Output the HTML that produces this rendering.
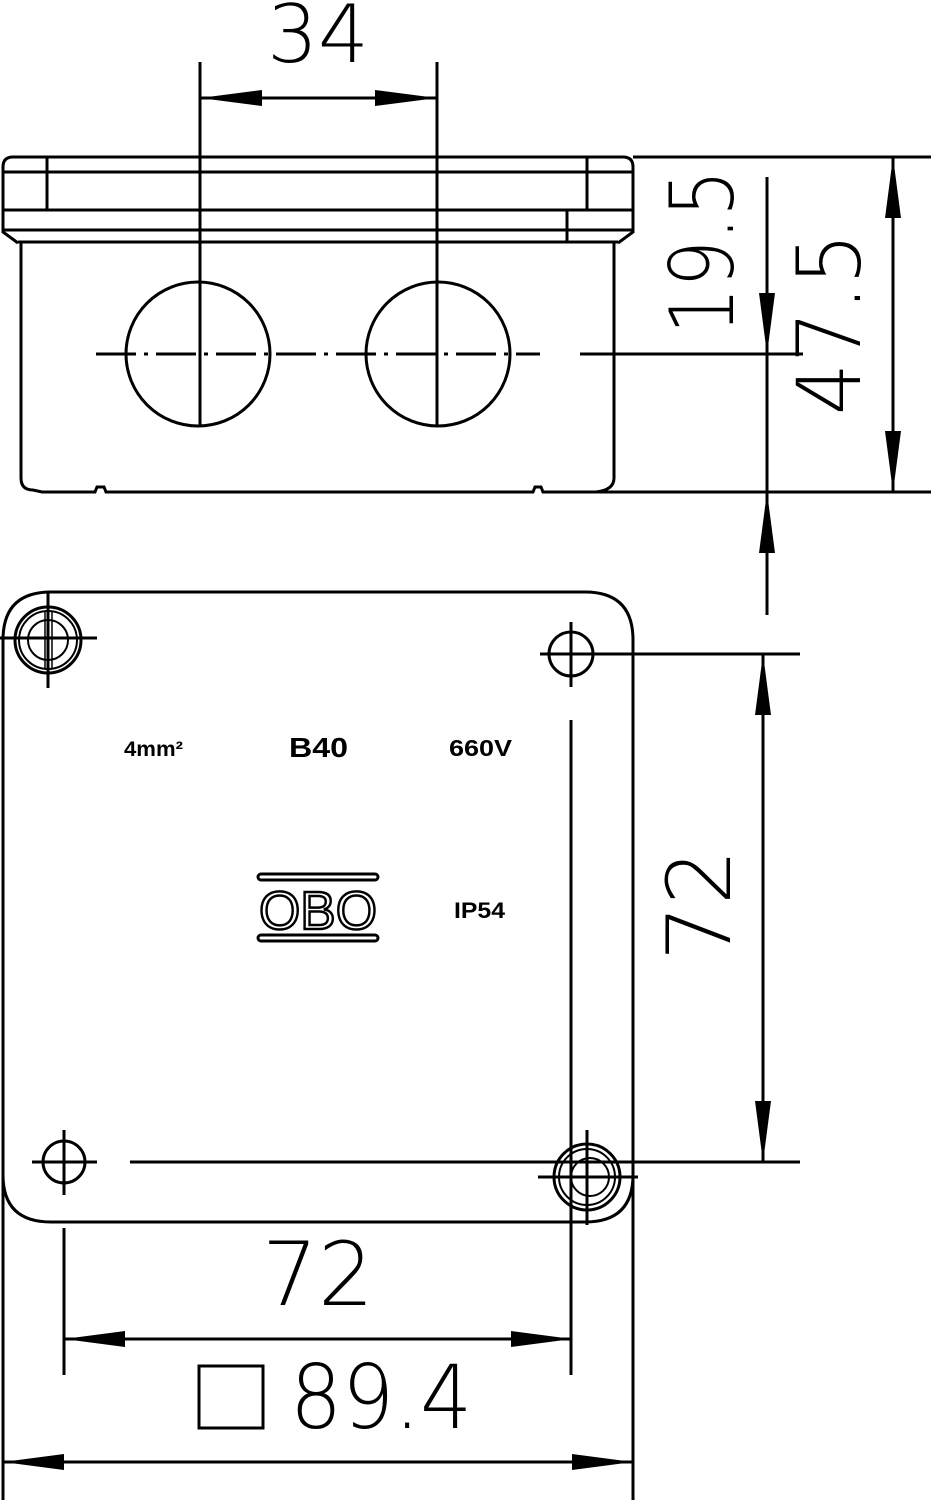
<!DOCTYPE html>
<html><head><meta charset="utf-8"><style>
html,body{margin:0;padding:0;background:#fff}
svg{display:block}
.d{font-family:"DejaVu Sans","Liberation Sans",sans-serif;font-weight:200;fill:#000}
.b{font-family:"Liberation Sans",sans-serif;font-weight:bold;fill:#000}
</style></head><body>
<svg width="931" height="1500" viewBox="0 0 931 1500" xmlns="http://www.w3.org/2000/svg" fill="none" stroke="#000" stroke-width="3">
<!-- TOP VIEW -->
<line x1="200" y1="62" x2="200" y2="425"/>
<line x1="437" y1="62" x2="437" y2="425"/>
<line x1="200" y1="98" x2="437" y2="98"/>
<polygon points="200,98 262,90 262,106" fill="#000" stroke="none"/>
<polygon points="437,98 375,90 375,106" fill="#000" stroke="none"/>
<text class="d" x="318" y="62" font-size="80" text-anchor="middle" stroke="none">34</text>
<path d="M18,243 L3,232 L3,167 Q3,157 13,157 L623,157 Q633,157 633,167 L633,232 L618,243"/>
<line x1="3" y1="172" x2="633" y2="172"/>
<line x1="3" y1="210" x2="633" y2="210"/>
<line x1="3" y1="230" x2="633" y2="230"/>
<line x1="18" y1="242" x2="618" y2="242"/>
<line x1="47" y1="157" x2="47" y2="210"/>
<line x1="587" y1="157" x2="587" y2="210"/>
<line x1="567" y1="210" x2="567" y2="242"/>
<path d="M21,242 L21,478 Q21,490 33,490 L42,492 L95,492 L97,487 L104,487 L106,492 L533,492 L535,487 L541,487 L543,492 L596,492 Q614,490 614,478 L614,242"/>
<circle cx="198" cy="354" r="72"/>
<circle cx="438" cy="354" r="72"/>
<line x1="96" y1="354" x2="540" y2="354" stroke-dasharray="40,8,4,8"/>
<line x1="580" y1="354" x2="803" y2="354"/>
<line x1="633" y1="157" x2="931" y2="157"/>
<line x1="580" y1="492" x2="931" y2="492"/>
<line x1="893" y1="157" x2="893" y2="492"/>
<polygon points="893,157 885,218 901,218" fill="#000" stroke="none"/>
<polygon points="893,492 885,431 901,431" fill="#000" stroke="none"/>
<line x1="767" y1="177" x2="767" y2="615"/>
<polygon points="767,354 759,293 775,293" fill="#000" stroke="none"/>
<polygon points="767,492 759,553 775,553" fill="#000" stroke="none"/>
<text class="d" transform="translate(733,252) rotate(-90) scale(0.84,1)" font-size="88" text-anchor="middle" stroke="none">19.5</text>
<text class="d" transform="translate(860,324) rotate(-90) scale(0.93,1)" font-size="88" text-anchor="middle" stroke="none">47.5</text>

<!-- BOTTOM VIEW -->
<path d="M3,1175 L3,640 Q3,592 51,592 L585,592 Q633,592 633,640 L633,1175 Q633,1222 585,1222 L51,1222 Q3,1222 3,1175 Z"/>
<line x1="3" y1="1175" x2="3" y2="1500"/>
<line x1="633" y1="1175" x2="633" y2="1500"/>
<circle cx="48" cy="640" r="33"/>
<circle cx="48" cy="640" r="29" stroke-width="2"/>
<circle cx="48" cy="640" r="20" stroke-width="2"/>
<line x1="0" y1="638" x2="97" y2="638"/>
<line x1="48" y1="592" x2="48" y2="688"/>
<line x1="45" y1="612" x2="45" y2="668" stroke-width="1.5"/>
<line x1="52" y1="612" x2="52" y2="668" stroke-width="1.5"/>
<circle cx="571" cy="654" r="22"/>
<line x1="540" y1="654" x2="800" y2="654"/>
<line x1="571" y1="622" x2="571" y2="687"/>
<line x1="571" y1="720" x2="571" y2="1375"/>
<circle cx="64" cy="1162" r="21"/>
<line x1="32" y1="1162" x2="97" y2="1162"/>
<line x1="64" y1="1130" x2="64" y2="1195"/>
<line x1="130" y1="1162" x2="800" y2="1162"/>
<circle cx="587" cy="1177" r="33"/>
<circle cx="587" cy="1177" r="28" stroke-width="2"/>
<circle cx="590" cy="1177" r="19" stroke-width="2"/>
<line x1="538" y1="1177" x2="638" y2="1177"/>
<line x1="587" y1="1130" x2="587" y2="1225"/>
<line x1="763" y1="654" x2="763" y2="1162"/>
<polygon points="763,654 755,715 771,715" fill="#000" stroke="none"/>
<polygon points="763,1162 755,1101 771,1101" fill="#000" stroke="none"/>
<text class="d" transform="translate(730,905) rotate(-90)" font-size="88" text-anchor="middle" stroke="none">72</text>
<line x1="64" y1="1228" x2="64" y2="1375"/>
<line x1="64" y1="1339" x2="572" y2="1339"/>
<polygon points="64,1339 125,1331 125,1347" fill="#000" stroke="none"/>
<polygon points="572,1339 511,1331 511,1347" fill="#000" stroke="none"/>
<text class="d" x="318" y="1305" font-size="88" text-anchor="middle" stroke="none">72</text>
<rect x="199" y="1366" width="64" height="62"/>
<text class="d" transform="translate(290,1428) scale(0.93,1)" font-size="88" stroke="none">89.4</text>
<line x1="3" y1="1462" x2="633" y2="1462"/>
<polygon points="3,1462 64,1454 64,1470" fill="#000" stroke="none"/>
<polygon points="633,1462 572,1454 572,1470" fill="#000" stroke="none"/>
<text class="b" x="124" y="756" font-size="21" stroke="none" textLength="59" lengthAdjust="spacingAndGlyphs">4mm²</text>
<text class="b" x="289" y="757" font-size="28" stroke="none" textLength="59" lengthAdjust="spacingAndGlyphs">B40</text>
<text class="b" x="449" y="756" font-size="23" stroke="none" textLength="63" lengthAdjust="spacingAndGlyphs">660V</text>
<text class="b" x="454" y="918" font-size="22" stroke="none" textLength="51" lengthAdjust="spacingAndGlyphs">IP54</text>
<rect x="258" y="874" width="120" height="6" rx="3"/>
<rect x="258" y="935" width="120" height="6" rx="3"/>
<text x="318" y="929" font-family="Liberation Sans,sans-serif" font-size="54" text-anchor="middle" fill="#fff" stroke="#000" stroke-width="2.5" textLength="118" lengthAdjust="spacingAndGlyphs">OBO</text>
</svg>
</body></html>
